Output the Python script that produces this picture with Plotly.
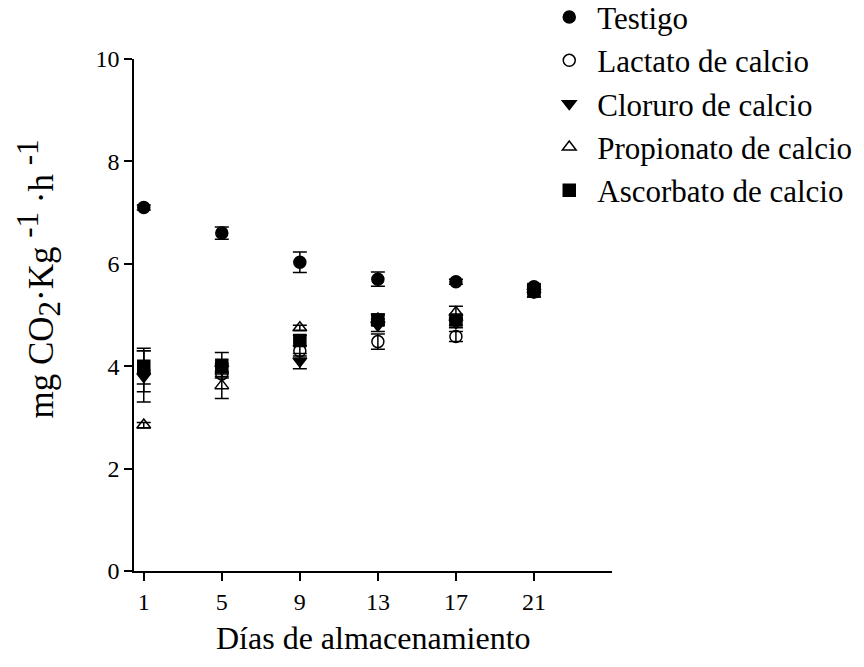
import plotly.graph_objects as go

# Storage days (x) and respiration rate per treatment
dias = [1, 5, 9, 13, 17, 21]

testigo = [7.10, 6.60, 6.03, 5.70, 5.65, 5.55]
testigo_err = [0.05, 0.12, 0.20, 0.14, 0.05, 0.05]

lactato = [3.90, 3.85, 4.30, 4.48, 4.58, 5.45]
lactato_err = [0.40, 0.05, 0.10, 0.15, 0.10, 0.10]

cloruro = [3.80, 3.95, 4.10, 4.80, 4.85, 5.45]
cloruro_err = [0.50, 0.10, 0.15, 0.12, 0.10, 0.10]

propionato = [2.85, 3.62, 4.75, 4.92, 5.05, 5.50]
propionato_err = [0.05, 0.25, 0.05, 0.10, 0.12, 0.05]

ascorbato = [4.00, 4.02, 4.50, 4.90, 4.90, 5.50]
ascorbato_err = [0.35, 0.25, 0.10, 0.10, 0.10, 0.08]

nombres = ["Testigo", "Lactato de calcio", "Cloruro de calcio",
           "Propionato de calcio", "Ascorbato de calcio"]

series = [
    (testigo, testigo_err, "circle"),
    (lactato, lactato_err, "circle-open"),
    (cloruro, cloruro_err, "triangle-down"),
    (propionato, propionato_err, "triangle-up-open"),
    (ascorbato, ascorbato_err, "square"),
]

FONT = "Liberation Serif, Times New Roman, serif"

fig = go.Figure()
for nombre, (vals, errs, simbolo) in zip(nombres, series):
    fig.add_trace(go.Scatter(
        x=dias, y=vals, name=nombre, mode="markers",
        marker=dict(symbol=simbolo, size=12, color="black",
                    line=dict(color="black", width=1.5)),
        error_y=dict(type="data", array=errs, visible=True,
                     color="black", thickness=1.5, width=7),
    ))

# y-axis title with near full-size, spaced exponents
sup = '<sup><span style="font-size:31px">-1</span></sup>'
titulo_y = ('mg CO<sub><span style="font-size:31px">2</span></sub>·Kg '
            + sup + ' ·h ' + sup)

fig.update_layout(
    width=864, height=667,
    margin=dict(l=134, r=252, t=59, b=96, autoexpand=False),
    plot_bgcolor="white", paper_bgcolor="white",
    font=dict(family=FONT, color="black", size=24),
    showlegend=True,
    legend=dict(x=0.852, y=1.134, xanchor="left", yanchor="top",
                font=dict(family=FONT, size=31, color="black"),
                bgcolor="rgba(0,0,0,0)", itemwidth=46),
    xaxis=dict(
        range=[0.5, 25], tickvals=dias, ticktext=[str(d) for d in dias],
        showline=True, linecolor="black", linewidth=1.5,
        ticks="outside", ticklen=8, tickwidth=1.5, tickcolor="black",
        showgrid=False, zeroline=False,
        tickfont=dict(family=FONT, size=24),
    ),
    yaxis=dict(
        range=[0, 10], tickvals=[0, 2, 4, 6, 8, 10],
        showline=True, linecolor="black", linewidth=1.5,
        ticks="outside", ticklen=8, tickwidth=1.5, tickcolor="black",
        showgrid=False, zeroline=False,
        tickfont=dict(family=FONT, size=24),
    ),
    annotations=[
        dict(text="Días de almacenamiento", xref="paper", yref="paper",
             x=0.5, y=-0.092, xanchor="center", yanchor="top",
             showarrow=False, font=dict(family=FONT, size=32)),
        dict(text=titulo_y,
             xref="paper", yref="paper", x=-0.2, y=0.57,
             xanchor="center", yanchor="middle", textangle=-90,
             showarrow=False, font=dict(family=FONT, size=35)),
    ],
)

fig.write_html("out.html")
